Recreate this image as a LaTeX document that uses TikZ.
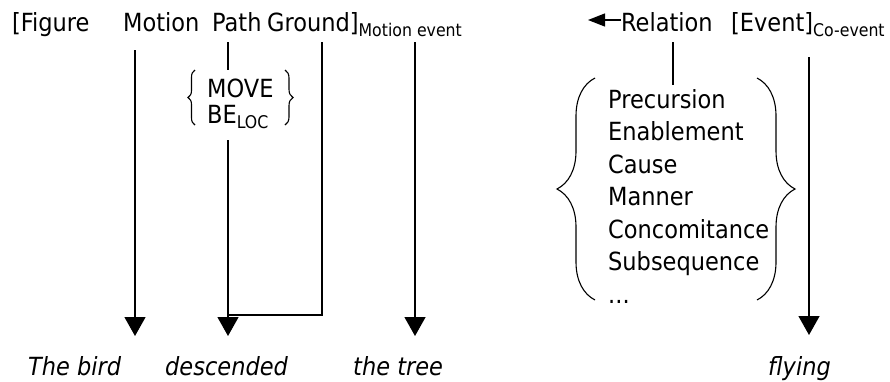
\documentclass[tikz,border=0pt]{standalone}
\usepackage{fontspec}
\setmainfont{DejaVu Sans Condensed}[ItalicFont={DejaVu Sans Condensed Oblique}]
\usepackage{tikz}
\usetikzlibrary{arrows.meta,decorations.pathreplacing}
\newcommand{\evsub}[1]{\raisebox{-5pt}{\fontsize{17.5}{18}\selectfont #1}}

\begin{document}
\begin{tikzpicture}[x=1pt,y=-1pt,
    every node/.style={inner sep=0pt,font=\fontsize{25}{30}\selectfont},
    word/.style={anchor=base west},
    gloss/.style={anchor=base west,font=\fontsize{25}{30}\selectfont\itshape},
    link/.style={line width=1.3pt},
    down/.style={link,-{Triangle[length=19pt,width=21pt]}},
    curly/.style={line width=1.1pt,decorate,decoration={brace,amplitude=#1}}]
    \useasboundingbox (0,0) rectangle (890,381);

    % Motion event row
    \node[word] (figure) at (12,31.5) {[Figure};
    \node[word] (motion) at (123,31.5) {Motion};
    \node[word] (path) at (212,31.5) {Path};
    \node[word] (ground) at (267,31.5) {Ground]\evsub{Motion event}};

    % Co-event row
    \node[word] (relation) at (621,31.5) {Relation};
    \node[word] (event) at (731,31.5) {[Event]\evsub{Co-event}};

    % Path values
    \node[word] (move) at (207,97) {MOVE};
    \node[word] (beloc) at (207,123) {BE\evsub{LOC}};
    \draw[curly=7pt] (195,125) -- (195,70);
    \draw[curly=8pt] (285,70) -- (285,125);

    % Relation values
    \foreach \rel [count=\i] in {Precursion,Enablement,Cause,Manner,Concomitance,Subsequence}
        \node[word] (rel\i) at (608,{108+32.5*(\i-1)}) {\rel};
    \node[word] (rel dots) at (608,303) {...};
    \draw[curly=38pt] (595,300) -- (595,78);
    \draw[curly=38pt] (757,78) -- (757,300);

    % Surface words
    \node[gloss] (bird) at (28,375) {The bird};
    \node[gloss] (descended) at (165,375) {descended};
    \node[gloss] (tree) at (353,375) {the tree};
    \node[gloss] (flying) at (768,375) {flying};

    % Free ends of the mapping lines
    \coordinate (motion top) at (135,50);
    \coordinate (motion end) at (135,336);
    \coordinate (path top) at (228,42);
    \coordinate (path stub) at (228,70);
    \coordinate (path low) at (228,140);
    \coordinate (path end) at (228,336);
    \coordinate (ground top) at (322,42);
    \coordinate (ground foot) at (228,315);
    \coordinate (mevent top) at (415,42);
    \coordinate (mevent end) at (415,336);
    \coordinate (relation top) at (673,42);
    \coordinate (relation low) at (673,85);
    \coordinate (relation tip) at (588,20);
    \coordinate (event top) at (809,57);
    \coordinate (event end) at (809,335);

    % Connections
    \draw[down] (motion top) -- (motion end);
    \draw[link] (path top) -- (path stub);
    \draw[down] (path low) -- (path end);
    \draw[link] (ground top) |- (ground foot);
    \draw[down] (mevent top) -- (mevent end);
    \draw[link] (relation top) -- (relation low);
    \draw[link,-{Triangle[length=17pt,width=13pt]}] (relation.west |- relation tip) -- (relation tip);
    \draw[down] (event top) -- (event end);
\end{tikzpicture}
\end{document}
